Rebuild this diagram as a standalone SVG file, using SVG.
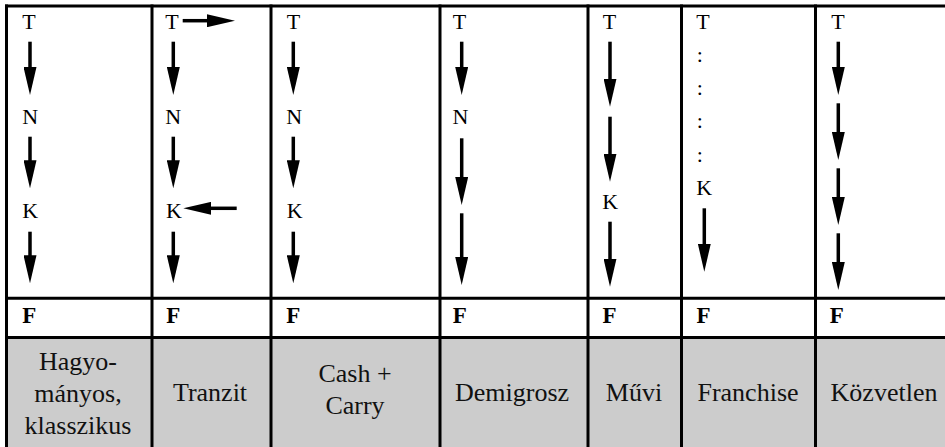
<svg xmlns="http://www.w3.org/2000/svg" width="945" height="447" viewBox="0 0 945 447">
  <defs>
    <style>
      .lbl { font-family: "Liberation Serif", "Times New Roman", serif; font-size: 22px; fill: #000; }
      .f { font-family: "Liberation Serif", "Times New Roman", serif; font-size: 23px; font-weight: bold; fill: #000; }
      .name { font-family: "Liberation Serif", "Times New Roman", serif; font-size: 26px; fill: #111; text-anchor: middle; }
      .grid line { stroke: #000; stroke-width: 3; }
      .flow line { stroke: #000; stroke-width: 3.5; marker-end: url(#head); }
    </style>
    <marker id="head" markerUnits="userSpaceOnUse" markerWidth="28" markerHeight="13" viewBox="0 0 28 13" refX="1" refY="6.5" orient="auto">
      <path d="M0,0 L28,6.5 L0,13 z" fill="#000"/>
    </marker>
  </defs>

  <rect width="945" height="447" fill="#fff"/>
  <!-- shaded name row -->
  <rect x="6.5" y="337.5" width="938.5" height="110" fill="#cccccc"/>

  <!-- table rules -->
  <g class="grid">
    <line x1="5" y1="6" x2="945" y2="6"/>
    <line x1="5" y1="298.3" x2="945" y2="298.3"/>
    <line x1="5" y1="337.5" x2="945" y2="337.5"/>
    <line x1="6.5" y1="4.5" x2="6.5" y2="447"/>
    <line x1="152" y1="4.5" x2="152" y2="447"/>
    <line x1="271" y1="4.5" x2="271" y2="447"/>
    <line x1="440" y1="4.5" x2="440" y2="447"/>
    <line x1="588" y1="4.5" x2="588" y2="447"/>
    <line x1="681.5" y1="4.5" x2="681.5" y2="447"/>
    <line x1="815.5" y1="4.5" x2="815.5" y2="447"/>
  </g>

  <!-- channel columns -->
  <g id="hagyomanyos">
    <text class="lbl" x="22.3" y="29">T</text>
    <text class="lbl" x="22.3" y="124">N</text>
    <text class="lbl" x="22.3" y="218">K</text>
    <text class="f" x="22.3" y="323">F</text>
    <text class="name" x="78" y="369.5">Hagyo-</text>
    <text class="name" x="78" y="401.5">mányos,</text>
    <text class="name" x="78" y="434">klasszikus</text>
  </g>

  <g id="tranzit">
    <text class="lbl" x="165.3" y="29">T</text>
    <text class="lbl" x="165.3" y="124">N</text>
    <text class="lbl" x="166" y="218">K</text>
    <text class="f" x="166.3" y="323">F</text>
    <text class="name" x="210" y="401">Tranzit</text>
  </g>

  <g id="cash-carry">
    <text class="lbl" x="286.8" y="29">T</text>
    <text class="lbl" x="286.3" y="124">N</text>
    <text class="lbl" x="286.8" y="218">K</text>
    <text class="f" x="286.3" y="323">F</text>
    <text class="name" x="355" y="382">Cash +</text>
    <text class="name" x="355" y="414">Carry</text>
  </g>

  <g id="demigrosz">
    <text class="lbl" x="452.8" y="29">T</text>
    <text class="lbl" x="452.5" y="124">N</text>
    <text class="f" x="452.8" y="323">F</text>
    <text class="name" x="512" y="401">Demigrosz</text>
  </g>

  <g id="muvi">
    <text class="lbl" x="602.8" y="29">T</text>
    <text class="lbl" x="602.3" y="209">K</text>
    <text class="f" x="602.5" y="323">F</text>
    <text class="name" x="634" y="401">Művi</text>
  </g>

  <g id="franchise">
    <text class="lbl" x="696.3" y="29">T</text>
    <text class="lbl" x="696.8" y="62">:</text>
    <text class="lbl" x="696.8" y="95">:</text>
    <text class="lbl" x="696.8" y="128">:</text>
    <text class="lbl" x="696.8" y="162">:</text>
    <text class="lbl" x="696.3" y="195">K</text>
    <text class="f" x="696.5" y="323">F</text>
    <text class="name" x="748" y="401">Franchise</text>
  </g>

  <g id="kozvetlen">
    <text class="lbl" x="831.3" y="29">T</text>
    <text class="f" x="829.8" y="323">F</text>
    <text class="name" x="884" y="401">Közvetlen</text>
  </g>

  <!-- flow arrows (line end = tip - 27) -->
  <g class="flow">
    <line x1="30" y1="41.7" x2="30" y2="68"/>
    <line x1="30" y1="136.7" x2="30" y2="161.3"/>
    <line x1="30" y1="231.7" x2="30" y2="256.3"/>

    <line x1="173.3" y1="41.7" x2="173.3" y2="68"/>
    <line x1="173.3" y1="136.7" x2="173.3" y2="161.3"/>
    <line x1="173.3" y1="231.7" x2="173.3" y2="256.3"/>
    <line x1="182.7" y1="20.7" x2="208" y2="20.7"/>
    <line x1="236.7" y1="208.3" x2="210.3" y2="208.3"/>

    <line x1="293.3" y1="41.7" x2="293.3" y2="68"/>
    <line x1="293.3" y1="136.7" x2="293.3" y2="161.3"/>
    <line x1="293.3" y1="231.7" x2="293.3" y2="256.3"/>

    <line x1="461.7" y1="41.7" x2="461.7" y2="68"/>
    <line x1="461.7" y1="138.3" x2="461.7" y2="178"/>
    <line x1="461.7" y1="213.3" x2="461.7" y2="258"/>

    <line x1="610" y1="41.7" x2="610" y2="79.7"/>
    <line x1="610" y1="116.7" x2="610" y2="154.7"/>
    <line x1="610" y1="221.7" x2="610" y2="259.7"/>

    <line x1="704.3" y1="208.3" x2="704.3" y2="244.7"/>

    <line x1="838.3" y1="41.7" x2="838.3" y2="68"/>
    <line x1="838.3" y1="103.3" x2="838.3" y2="133"/>
    <line x1="838.3" y1="168.3" x2="838.3" y2="198"/>
    <line x1="838.3" y1="233.3" x2="838.3" y2="263"/>
  </g>
</svg>
